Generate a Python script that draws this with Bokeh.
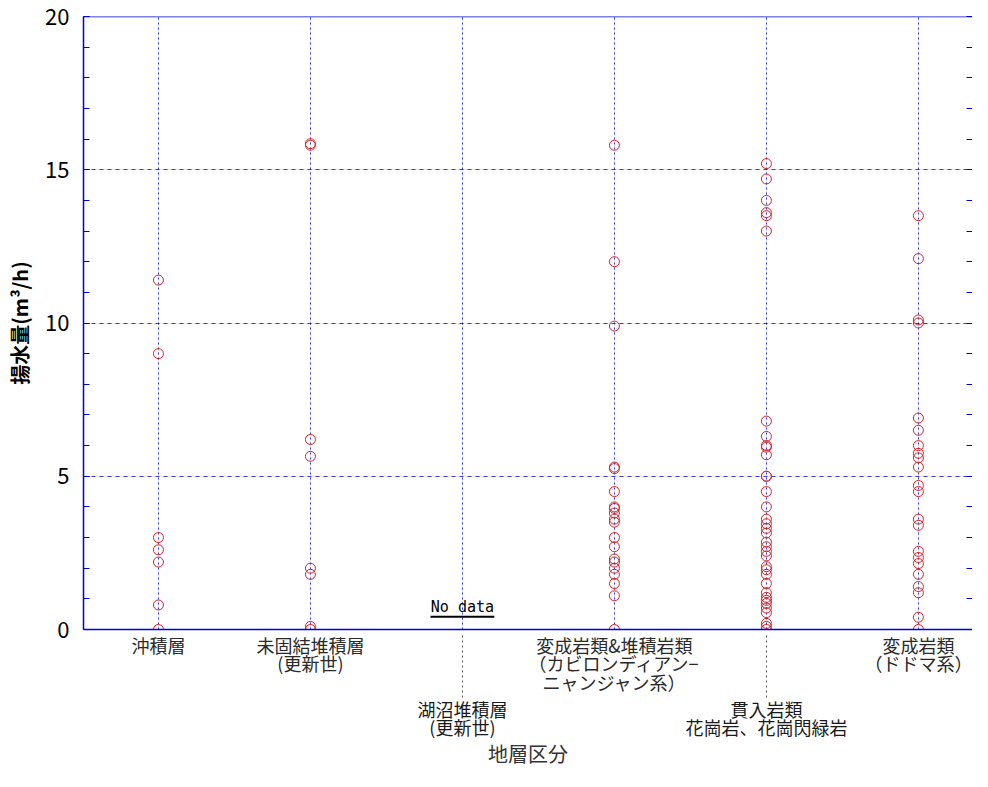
from bokeh.plotting import figure
from bokeh.models import LinearAxis, FixedTicker, Range1d, Label, ColumnDataSource, Grid, Span
from bokeh.embed import file_html
from bokeh.resources import INLINE

# ---- data ----
categories = ["沖積層", "未固結堆積層\n(更新世)", "湖沼堆積層\n(更新世)",
              "変成岩類&堆積岩類\n（カビロンディアン−\nニャンジャン系）",
              "貫入岩類\n花崗岩、花崗閃緑岩", "変成岩類\n（ドドマ系）"]
upper_idx = [0, 1, 3, 5]
lower_idx = [2, 4]

alluvium = [11.4, 9.0, 3.0, 2.6, 2.2, 0.8, 0.0]
unconsolidated = [15.85, 15.8, 6.2, 5.65, 2.0, 1.8, 0.1, 0.0]
lacustrine = []
meta_sed = [15.8, 12.0, 9.9, 5.3, 5.25, 4.5, 4.0, 3.95, 3.8, 3.6, 3.5, 3.0,
            2.7, 2.3, 2.2, 2.0, 1.8, 1.5, 1.1, 0.0]
intrusive = [15.2, 14.7, 14.0, 13.6, 13.5, 13.0, 6.8, 6.3, 6.0, 5.95, 5.7,
             5.0, 5.0, 4.5, 4.0, 3.6, 3.45, 3.3, 3.15, 2.85, 2.7, 2.55, 2.4,
             2.05, 1.95, 1.8, 1.5, 1.2, 1.05, 0.95, 0.85, 0.7, 0.55, 0.2, 0.1, 0.0]
dodoma = [13.5, 12.1, 10.1, 10.0, 6.9, 6.5, 6.0, 5.75, 5.6, 5.3, 4.7, 4.5,
          3.6, 3.4, 2.55, 2.35, 2.15, 1.8, 1.4, 1.2, 0.4, 0.0]
series = [alluvium, unconsolidated, lacustrine, meta_sed, intrusive, dodoma]
y_ticks = [0, 5, 10, 15, 20]
y_minor = list(range(0, 21))

xs, ys = [], []
for i, vals in enumerate(series):
    for v in vals:
        xs.append(i)
        ys.append(v)
src = ColumnDataSource(dict(x=xs, y=ys))

FONT = "Noto Sans CJK JP"
BLUE = "#0000dd"
LH = 0.72  # Noto CJK has tall line metrics

p = figure(width=972, height=771, output_backend="svg", toolbar_location=None,
           x_range=Range1d(-0.493, 5.356), y_range=Range1d(0, 20),
           min_border_left=83, min_border_top=16, min_border_right=0,
           min_border_bottom=137, x_axis_location=None, y_axis_location=None)
p.outline_line_color = None
p.background_fill_color = "white"

# y axis
yax = LinearAxis(ticker=FixedTicker(ticks=y_ticks, minor_ticks=y_minor))
yax.axis_label = "揚水量(m³/h)"
yax.axis_label_text_font = FONT
yax.axis_label_text_font_size = "20px"
yax.axis_label_text_font_style = "bold"
yax.axis_label_text_color = "black"
yax.axis_label_text_line_height = 0.68
yax.axis_label_standoff = 8
yax.major_label_text_font = FONT
yax.major_label_text_font_size = "22px"
yax.major_label_text_color = "black"
yax.major_label_standoff = 14
yax.axis_line_color = BLUE
yax.axis_line_width = 1.5
yax.major_tick_line_color = BLUE
yax.minor_tick_line_color = BLUE
yax.major_tick_in = 6
yax.major_tick_out = 0
yax.minor_tick_in = 6
yax.minor_tick_out = 0
p.add_layout(yax, "left")

# right axis: inward ticks only, no labels
rax = LinearAxis(ticker=FixedTicker(ticks=[], minor_ticks=y_minor))
rax.axis_line_color = None
rax.major_label_standoff = 0
rax.minor_tick_line_color = BLUE
rax.minor_tick_in = 6
rax.minor_tick_out = 0
p.add_layout(rax, "right")

# main x axis (upper labels)
xax = LinearAxis(ticker=FixedTicker(ticks=upper_idx))
xax.major_label_overrides = {i: categories[i] for i in upper_idx}
xax.major_label_text_font = FONT
xax.major_label_text_font_size = "18px"
xax.major_label_text_line_height = LH
xax.major_label_text_color = "#2a2a2a"
xax.major_label_standoff = 2
xax.axis_line_color = BLUE
xax.axis_line_width = 1.5
xax.major_tick_in = 0
xax.major_tick_out = 0
xax.minor_tick_line_color = None
p.add_layout(xax, "below")

# second x axis (lower labels with leader lines)
xax2 = LinearAxis(ticker=FixedTicker(ticks=lower_idx))
xax2.major_label_overrides = {i: categories[i] for i in lower_idx}
xax2.major_label_text_font = FONT
xax2.major_label_text_font_size = "18px"
xax2.major_label_text_line_height = LH
xax2.major_label_text_color = "#1a1a1a"
xax2.major_label_standoff = -2
xax2.axis_line_color = None
xax2.major_tick_in = 62
xax2.major_tick_out = 0
xax2.major_tick_line_color = "#555555"
xax2.major_tick_line_dash = "2 3"
xax2.minor_tick_line_color = None
xax2.axis_label = "地層区分"
xax2.axis_label_text_font = FONT
xax2.axis_label_text_font_size = "20px"
xax2.axis_label_text_font_style = "normal"
xax2.axis_label_text_color = "#333333"
xax2.axis_label_text_line_height = 0.8
xax2.axis_label_standoff = -4
p.add_layout(xax2, "below")

# top border
p.add_layout(Span(location=20, dimension="width", line_color=BLUE, line_width=1.5))

# grids
xg = Grid(dimension=0, ticker=FixedTicker(ticks=list(range(len(categories)))),
          grid_line_color=BLUE, grid_line_dash="2 3", grid_line_alpha=0.75)
yg = Grid(dimension=1, ticker=FixedTicker(ticks=y_ticks[1:-1]),
          grid_line_color=BLUE, grid_line_dash="4 4", grid_line_alpha=0.75)
p.add_layout(xg)
p.add_layout(yg)

p.scatter("x", "y", source=src, marker="circle", size=10,
          line_color="#dd2222", fill_color="white", fill_alpha=0.0, line_width=1)

# No data annotation
nd = Label(x=2, y=0.45, text="No data", text_align="center", text_baseline="bottom",
           text_font="DejaVu Sans Mono", text_font_size="15px", text_color="black")
p.add_layout(nd)
p.segment(x0=[1.79], y0=[0.42], x1=[2.21], y1=[0.42], line_color="black", line_width=2)

open("out.html", "w").write(file_html(p, INLINE))
